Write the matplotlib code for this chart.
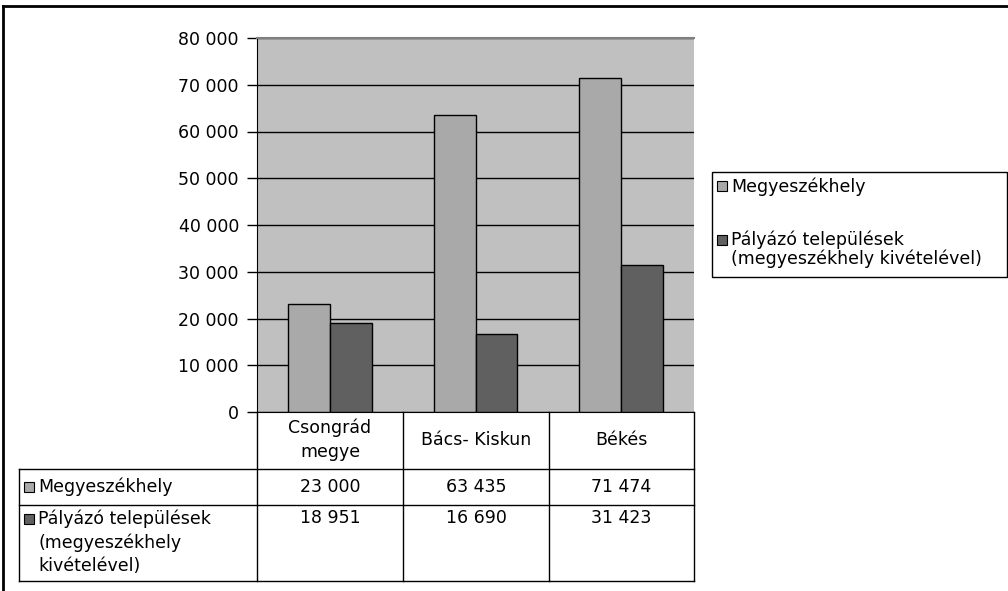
import matplotlib.pyplot as plt
from matplotlib.patches import Rectangle
from matplotlib.lines import Line2D

plt.rcParams['font.family'] = ['DejaVu Sans']

# adatok
categories = ['Csongrád\nmegye', 'Bács- Kiskun', 'Békés']
series_names = ['Megyeszékhely', 'Pályázó települések\n(megyeszékhely kivételével)']
table_names = ['Megyeszékhely', 'Pályázó települések\n(megyeszékhely\nkivételével)']
megyeszekhely = [23000, 63435, 71474]
palyazo = [18951, 16690, 31423]
yticks = [0, 10000, 20000, 30000, 40000, 50000, 60000, 70000, 80000]

c_light = '#a9a9a9'
c_dark = '#606060'
c_bg = '#c0c0c0'

W, H = 1008, 591
fig = plt.figure(figsize=(W / 100, H / 100), dpi=100)

def fx(px):
    return px / W

def fy(py):
    return 1 - py / H

# outer frame
fig.add_artist(Line2D([fx(3), fx(3)], [fy(6), 0], color='black', lw=2))
fig.add_artist(Line2D([fx(3), 1], [fy(6), fy(6)], color='black', lw=2))

# plot area
L, R, T, B = 257, 694, 38, 412
fs = 12.5
ax = fig.add_axes([fx(L), fy(B), fx(R) - fx(L), fy(T) - fy(B)])
ax.set_facecolor(c_bg)
x = range(len(categories))
bw = 0.288
ax.bar([i - bw / 2 for i in x], megyeszekhely, width=bw, color=c_light,
       edgecolor='black', linewidth=1, zorder=3)
ax.bar([i + bw / 2 for i in x], palyazo, width=bw, color=c_dark,
       edgecolor='black', linewidth=1, zorder=3)
ax.set_xlim(-0.5, len(categories) - 0.5)
ax.set_ylim(0, 80000)
ax.set_yticks(yticks)
ax.set_yticklabels([f'{v:,}'.replace(',', ' ') for v in yticks], fontsize=fs)
ax.set_xticks([])
ax.yaxis.grid(True, color='black', linewidth=1, zorder=1)
ax.set_axisbelow(True)
ax.tick_params(axis='y', direction='out', length=7, width=1, pad=6)
ax.spines['right'].set_visible(False)
ax.spines['top'].set_color('#808080')
ax.spines['top'].set_linewidth(1.5)
ax.spines['bottom'].set_color('black')
ax.spines['left'].set_color('black')

# data table below the chart
cols = [257, 403, 549, 694]
rows = [412, 469, 505, 581]
lw = 1
for cx in cols:
    fig.add_artist(Line2D([fx(cx)] * 2, [fy(412), fy(581)], color='black', lw=lw))
fig.add_artist(Line2D([fx(19)] * 2, [fy(469), fy(581)], color='black', lw=lw))
for ry in rows[1:]:
    fig.add_artist(Line2D([fx(19), fx(694)], [fy(ry)] * 2, color='black', lw=lw))

for i, cat in enumerate(categories):
    cx = (cols[i] + cols[i + 1]) / 2
    fig.text(fx(cx), fy(440), cat, ha='center', va='center', fontsize=fs, linespacing=1.4)
    fig.text(fx(cx), fy(487), f'{megyeszekhely[i]:,}'.replace(',', ' '),
             ha='center', va='center', fontsize=fs)
    fig.text(fx(cx), fy(509), f'{palyazo[i]:,}'.replace(',', ' '),
             ha='center', va='top', fontsize=fs)

for name, col, ytxt, va in [(table_names[0], c_light, 487, 'center'),
                            (table_names[1], c_dark, 509, 'top')]:
    ysq = 487 if va == 'center' else 519
    fig.add_artist(Rectangle((fx(24), fy(ysq + 5)), fx(10), fy(ysq - 5) - fy(ysq + 5),
                             facecolor=col, edgecolor='black', lw=0.8))
    fig.text(fx(38), fy(ytxt), name, ha='left', va=va, fontsize=fs, linespacing=1.4)

# legend
fig.add_artist(Rectangle((fx(712), fy(277)), fx(1007) - fx(712), fy(172) - fy(277),
                         facecolor='white', edgecolor='black', lw=1))
leg = [(series_names[0], c_light, 186), (series_names[1], c_dark, 240)]
for name, col, ly in leg:
    fig.add_artist(Rectangle((fx(717), fy(ly + 5)), fx(10), fy(ly - 5) - fy(ly + 5),
                             facecolor=col, edgecolor='black', lw=0.8))
    fig.text(fx(731), fy(ly - 9), name, ha='left', va='top', fontsize=fs, linespacing=1.0)

fig.savefig('out.png', dpi=100)
